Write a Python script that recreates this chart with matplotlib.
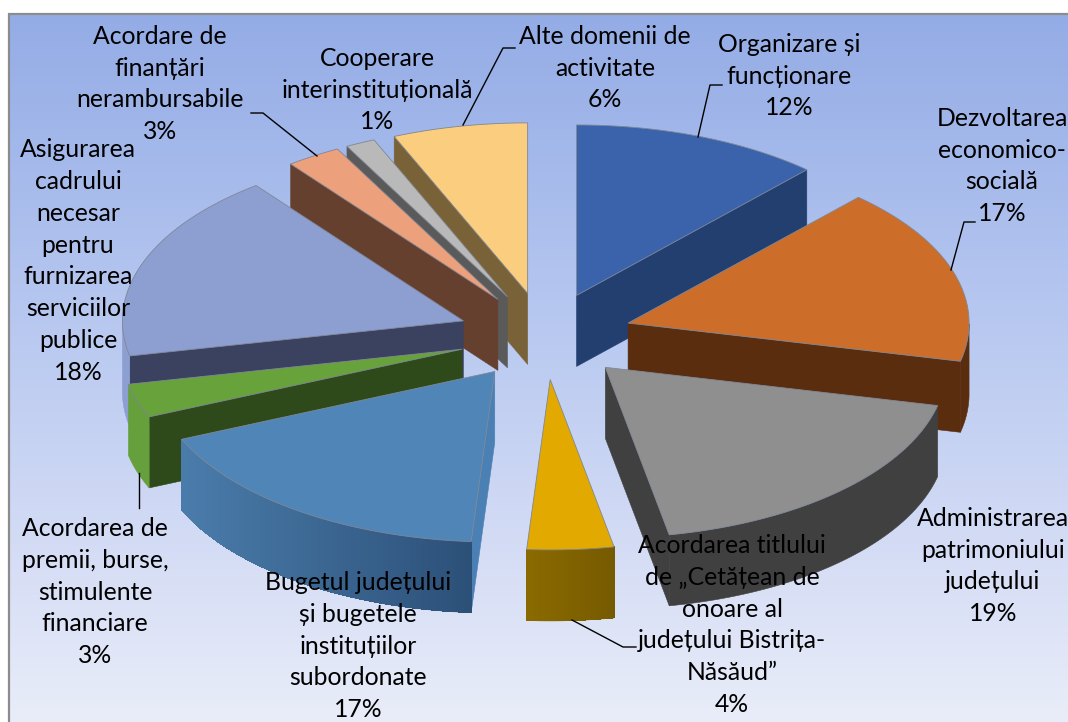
import numpy as np
import matplotlib
matplotlib.use("Agg")
import matplotlib.pyplot as plt
from matplotlib.colors import LinearSegmentedColormap, to_rgb

# ---- data ----
categories = [
    "Organizare și\nfuncționare", "Dezvoltarea\neconomico-\nsocială",
    "Administrarea\npatrimoniului\njudețului",
    "Acordarea titlului\nde „Cetățean de\nonoare al\njudețului Bistrița-\nNăsăud”",
    "Bugetul județului\nși bugetele\ninstituțiilor\nsubordonate",
    "Acordarea de\npremii, burse,\nstimulente\nfinanciare",
    "Asigurarea\ncadrului\nnecesar\npentru\nfurnizarea\nserviciilor\npublice",
    "Acordare de\nfinanțări\nnerambursabile",
    "Cooperare\ninterinstituțională", "Alte domenii de\nactivitate",
]
values = [11.8, 16.8, 18.4, 4.1, 17.4, 3.2, 17.9, 2.6, 1.4, 6.4]
shown = ["12%", "17%", "19%", "4%", "17%", "3%", "18%", "3%", "1%", "6%"]

top_colors = ["#3a63ab", "#cc6d2a", "#8f8f8f", "#e2a900", "#5085b8",
              "#68a23b", "#8d9fd1", "#eda07c", "#b9b9b9", "#fbcd7e"]
radial_colors = ["#233f70", "#5a2d0e", "#404040", "#7f6000", "#4a80b4",
                 "#2f4a1a", "#3a4260", "#66402f", "#5a5a5a", "#7a6238"]
outer_left = ["#233f70", "#5a2d0e", "#404040", "#8a6a00", "#4a7cab",
              "#66a03c", "#8d9fd1", "#66402f", "#5a5a5a", "#7a6238"]
outer_right = ["#233f70", "#5a2d0e", "#404040", "#765a00", "#2c5078",
               "#66a03c", "#8d9fd1", "#66402f", "#5a5a5a", "#7a6238"]

label_x = [789, 1002, 993, 732, 358, 95, 78, 160, 377, 605]
label_y = [76, 166, 566, 625, 646, 592, 261, 84, 90, 68]
leaders = [
    [(698, 137), (710, 85), (722, 85)],
    [(951, 270), (964, 222), (975, 222)],
    [(572, 620), (623, 647), (636, 647)],
    [(139, 473), (139, 508)],
    [(317, 156), (263, 113), (251, 113)],
    [(463, 125), (503, 48), (515, 48)],
]

# ---- geometry of the exploded, tilted pie ----
W, H = 1068, 722
CX, CY = 545, 336
R, TILT, EXPLODE, DEPTH = 341, 0.5, 87, 71

fig = plt.figure(figsize=(W / 100, H / 100), dpi=100, facecolor="white")
ax = fig.add_axes([0, 0, 1, 1])
ax.axis("off")

bg = LinearSegmentedColormap.from_list(
    "bg", ["#94ace6", "#a8bcec", "#bdccf1", "#d4dcf5", "#e9edf9"])
ax.imshow(np.linspace(0, 1, 256)[:, None], cmap=bg, aspect="auto",
          extent=(9, W, H, 14), zorder=0)
ax.plot([W, 9, 9], [14, 14, H], color="#8c8c8c", lw=1.6, zorder=1,
        solid_joinstyle="miter")
ax.set_xlim(0, W)
ax.set_ylim(H, 0)


def project(theta, radius, apex):
    return (apex[0] + radius * np.sin(theta),
            apex[1] - radius * TILT * np.cos(theta))


edges = np.radians(np.cumsum([0] + values) / sum(values) * 360)
slices = []
for i, (a, b) in enumerate(zip(edges[:-1], edges[1:])):
    mid = (a + b) / 2
    apex = project(mid, EXPLODE, (CX, CY))
    slices.append((apex[1], i, a, b, apex))

EDGE = "#7f8797"
for order, (_, i, a, b, apex) in enumerate(sorted(slices, key=lambda s: s[0])):
    z = 3 + order
    th = np.linspace(a, b, 120)
    xs, ys = project(th, R, apex)

    # radial walls
    for ang, vis in ((a, np.sin(a) < -1e-6), (b, np.sin(b) > 1e-6)):
        if vis:
            ox, oy = project(ang, R, apex)
            ax.fill([apex[0], ox, ox, apex[0]],
                    [apex[1], oy, oy + DEPTH, apex[1] + DEPTH],
                    color=radial_colors[i], lw=0.4, zorder=z)
    # outer wall, shaded from left to right
    mask = np.cos(th) < 0
    if mask.any():
        tx, ty = xs[mask], ys[mask]
        c0, c1 = np.array(to_rgb(outer_left[i])), np.array(to_rgb(outer_right[i]))
        ax.fill(np.r_[tx, tx[::-1]], np.r_[ty, ty[::-1] + DEPTH],
                color=(c0 + c1) / 2, lw=0.4, zorder=z)
        if outer_left[i] != outer_right[i]:
            lo, hi = tx.min(), tx.max()
            for j in range(len(tx) - 1):
                f = ((tx[j] + tx[j + 1]) / 2 - lo) / max(hi - lo, 1)
                ax.fill([tx[j], tx[j + 1], tx[j + 1], tx[j]],
                        [ty[j], ty[j + 1], ty[j + 1] + DEPTH, ty[j] + DEPTH],
                        color=c0 + (c1 - c0) * f, lw=0, antialiased=False,
                        zorder=z)
    # top face
    ax.fill(np.r_[apex[0], xs], np.r_[apex[1], ys], facecolor=top_colors[i],
            edgecolor=EDGE, lw=0.6, zorder=z + 0.5)

for pts in leaders:
    px, py = zip(*pts)
    ax.plot(px, py, color="black", lw=1.0, zorder=30)

for name, pct, x, y in zip(categories, shown, label_x, label_y):
    ax.text(x, y, f"{name}\n{pct}", ha="center", va="center",
            multialignment="center", fontsize=17.8, linespacing=1.47,
            family=["Lato", "Open Sans", "DejaVu Sans"], color="black", zorder=40)

fig.savefig("out.png", dpi=100)
